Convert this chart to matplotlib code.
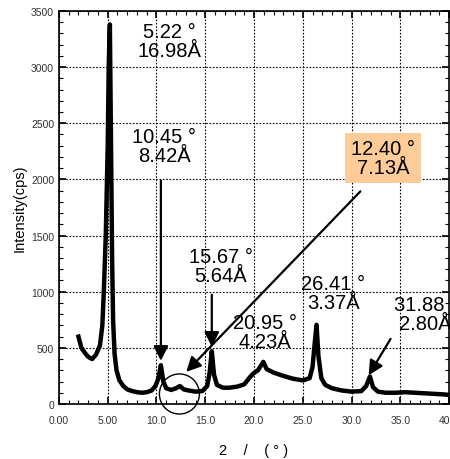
import matplotlib
matplotlib.use("Agg")
import matplotlib.pyplot as plt
from matplotlib.patches import Ellipse
from matplotlib.ticker import MultipleLocator

plt.rcParams['font.family'] = ['Liberation Sans', 'DejaVu Sans']

# ---- data ----
two_theta = [2.0, 2.3, 2.7, 3.0, 3.4, 3.8, 4.2, 4.45, 4.6, 4.8, 5.0, 5.1, 5.22,
             5.35, 5.45, 5.55, 5.7, 5.9, 6.2, 6.6, 7.0, 7.5, 8.0, 8.5, 9.0, 9.5,
             9.9, 10.2, 10.45, 10.7, 11.0, 11.5, 12.0, 12.4, 12.8, 13.3, 14.0,
             14.7, 15.2, 15.45, 15.67, 15.9, 16.2, 16.8, 17.5, 18.3, 19.0, 19.5,
             19.9, 20.4, 20.95, 21.3, 22.0, 23.0, 24.0, 25.0, 25.7, 26.0, 26.2,
             26.41, 26.6, 26.9, 27.3, 28.0, 29.0, 30.0, 31.0, 31.5, 31.88, 32.2,
             32.7, 33.5, 34.5, 35.5, 36.5, 37.5, 38.5, 39.5, 40.0]
intensity = [600, 500, 450, 420, 400, 440, 520, 700, 1000, 1500, 2300, 3000, 3380,
             2200, 1300, 750, 450, 300, 210, 160, 130, 115, 105, 100, 105, 120,
             160, 230, 345, 200, 140, 125, 140, 160, 130, 120, 110,
             115, 160, 280, 470, 260, 170, 145, 145, 155, 175, 230,
             270, 300, 375, 310, 280, 250, 225, 210, 230, 330, 520,
             705, 430, 230, 170, 140, 120, 110, 115, 160, 245, 150,
             110, 100, 100, 105, 100, 95, 90, 85, 80]

x_ticks = [0, 5, 10, 15, 20, 25, 30, 35, 40]
x_tick_labels = ["0.00", "5.00", "10.0", "15.0", "20.0", "25.0", "30.0", "35.0", "40.0"]
y_ticks = [0, 500, 1000, 1500, 2000, 2500, 3000, 3500]

peak_labels = ["5.22 °\n16.98Å", "10.45 °\n8.42Å", "15.67 °\n5.64Å",
               "20.95 °\n4.23Å", "26.41 °\n3.37Å", "31.88 °\n2.80Å",
               "12.40 °\n7.13Å"]

fig = plt.figure(figsize=(4.5, 4.6), dpi=100)
ax = fig.add_axes([0.131, 0.1196, 0.867, 0.8544])

ax.plot(two_theta, intensity, color='black', lw=3.2, solid_joinstyle='round')

ax.set_xlim(0, 40)
ax.set_ylim(0, 3500)
ax.set_xticks(x_ticks)
ax.set_xticklabels(x_tick_labels)
ax.set_yticks(y_ticks)
ax.xaxis.set_minor_locator(MultipleLocator(1))
ax.yaxis.set_minor_locator(MultipleLocator(100))
ax.tick_params(which='both', direction='in', top=True, right=True,
               labelsize=7.5, labelcolor='#333333')
ax.tick_params(which='major', length=5, width=1.2)
ax.tick_params(which='minor', length=3, width=0.8)
ax.tick_params(axis='x', pad=8)
ax.grid(True, which='major', linestyle=(0, (1.5, 1.5)), color='black', lw=0.8)
for s in ax.spines.values():
    s.set_linewidth(1.2)

ax.set_ylabel("Intensity(cps)", fontsize=10.5, labelpad=3)
ax.set_xlabel("2    /    ( ° )", fontsize=10.5, labelpad=13)

fs = 14.5
ax.text(11.3, 3230, peak_labels[0], ha='center', va='center', fontsize=fs, linespacing=1.0)
ax.text(10.8, 2300, peak_labels[1], ha='center', va='center', fontsize=fs, linespacing=1.0)
ax.text(16.6, 1225, peak_labels[2], ha='center', va='center', fontsize=fs, linespacing=1.0)
ax.text(21.1, 645, peak_labels[3], ha='center', va='center', fontsize=fs, linespacing=1.0)
ax.text(28.1, 985, peak_labels[4], ha='center', va='center', fontsize=fs, linespacing=1.0)
ax.text(37.6, 800, peak_labels[5], ha='center', va='center', fontsize=fs, linespacing=1.0,
        clip_on=False)
ax.text(33.2, 2190, peak_labels[6], ha='center', va='center', fontsize=fs, linespacing=1.0,
        bbox=dict(boxstyle='square,pad=0.3', fc='#FFCC99', ec='none'))

ap = dict(arrowstyle='-|>', color='black', lw=1.6, mutation_scale=22, shrinkA=0, shrinkB=0)
ax.annotate("", xy=(10.45, 384), xytext=(10.45, 1990), arrowprops=ap)
ax.annotate("", xy=(15.67, 509), xytext=(15.67, 973), arrowprops=ap)
ax.annotate("", xy=(13.05, 286), xytext=(30.9, 1893), arrowprops=ap)
ax.annotate("", xy=(31.75, 255), xytext=(34.0, 580), arrowprops=ap)

ax.add_patch(Ellipse((12.35, 89), 4.1, 357, fill=False, ec='black', lw=1.0, clip_on=False))

fig.savefig("out.png", dpi=100)
